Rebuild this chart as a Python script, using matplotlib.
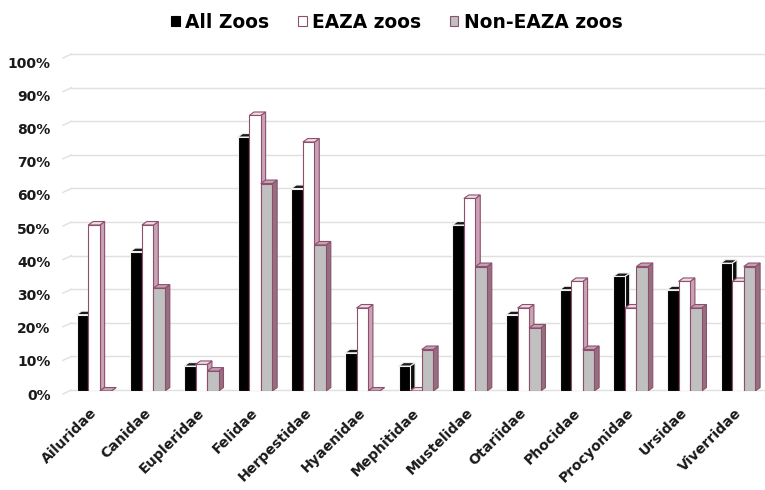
import matplotlib
matplotlib.use("Agg")
import matplotlib.pyplot as plt
from matplotlib.patches import Polygon, Rectangle
from matplotlib.transforms import ScaledTranslation
import numpy as np

categories = ["Ailuridae", "Canidae", "Eupleridae", "Felidae", "Herpestidae",
              "Hyaenidae", "Mephitidae", "Mustelidae", "Otariidae", "Phocidae",
              "Procyonidae", "Ursidae", "Viverridae"]
all_zoos = [23, 42, 7.5, 76.5, 61, 11.5, 7.5, 50, 23, 30.5, 34.5, 30.5, 38.5]
eaza_zoos = [50, 50, 8, 83, 75, 25, 0, 58, 25, 33, 25, 33, 33]
non_eaza_zoos = [0, 31, 6, 62.5, 44, 0, 12.5, 37.5, 19, 12.5, 37.5, 25, 37.5]
series_names = ["All Zoos", "EAZA zoos", "Non-EAZA zoos"]
yticks = [0, 10, 20, 30, 40, 50, 60, 70, 80, 90, 100]
ytick_labels = ["0%", "10%", "20%", "30%", "40%", "50%", "60%", "70%", "80%", "90%", "100%"]

W, H = 765, 490
fig = plt.figure(figsize=(W / 100, H / 100), dpi=100)
ax = fig.add_axes([67.2 / W, 99 / H, 697.6 / W, 338.6 / H])
ax.set_xlim(-0.5, 12.5)
ax.set_ylim(0, 102)
for s in ax.spines.values():
    s.set_visible(False)

mauve = "#8e4f6e"
styles = [
    dict(front="#000000", top="#1a1a1a", side="#0d0d0d", edge="#f0f0f0"),
    dict(front="#ffffff", top="#efdde6", side="#c9a2b5", edge=mauve),
    dict(front="#c0c0c0", top="#c3a3b3", side="#94707f", edge=mauve),
]

# back wall gridlines
for g in yticks:
    gy = g * 1.012 + 0.3
    ax.plot([-0.42, 12.5], [gy, gy], color="#e0e0e0", lw=1.0, zorder=1, clip_on=False)
    ax.plot([-0.58, -0.42], [gy - 1.2, gy], color="#e0e0e0", lw=1.0, zorder=1, clip_on=False)

bw = 0.215
dx = 0.09
dy = 1.05
x = np.arange(len(categories))
series = [all_zoos, eaza_zoos, non_eaza_zoos]
z = 2
for i in range(len(categories)):
    for k, vals in enumerate(series):
        st = styles[k]
        left = x[i] + (k - 1.5) * bw
        right = left + bw
        v = vals[i]
        front = Rectangle((left, 0), bw, v, facecolor=st["front"], edgecolor=st["edge"], lw=0.8, zorder=z)
        top = Polygon([(left, v), (right, v), (right + dx, v + dy), (left + dx, v + dy)],
                      closed=True, facecolor=st["top"], edgecolor=st["edge"], lw=0.8, zorder=z)
        side = Polygon([(right, 0), (right + dx, dy), (right + dx, v + dy), (right, v)],
                       closed=True, facecolor=st["side"], edgecolor=st["edge"], lw=0.8, zorder=z)
        ax.add_patch(side)
        ax.add_patch(top)
        ax.add_patch(front)
        z += 1

ax.set_yticks(yticks)
ax.set_yticklabels(ytick_labels, fontsize=10, fontweight="bold", color="#1a1a1a")
ax.tick_params(axis="y", length=0, pad=12)
for lab in ax.get_yticklabels():
    lab.set_transform(lab.get_transform() + ScaledTranslation(0, -3 / 100, fig.dpi_scale_trans))

ax.set_xticks(x)
ax.set_xticklabels(categories, rotation=45, ha="right", va="center", rotation_mode="anchor",
                   fontsize=10.2, fontweight="bold", color="#1a1a1a")
ax.tick_params(axis="x", length=0, pad=14)
for lab in ax.get_xticklabels():
    lab.set_transform(lab.get_transform() + ScaledTranslation(1 / 100, 0, fig.dpi_scale_trans))

handles = [Rectangle((0, 0), 1, 1, facecolor=styles[k]["front"],
                     edgecolor=("#000000" if k == 0 else mauve), lw=0.8) for k in range(3)]
fig.legend(handles, series_names, loc="center", bbox_to_anchor=(397 / W, 1 - 22 / H), ncol=3,
           frameon=False, handlelength=0.45, handleheight=0.45, handletextpad=0.3,
           columnspacing=1.55, prop=dict(family="DejaVu Sans", weight="bold", size=13.4))

fig.savefig("out.png", dpi=100)
